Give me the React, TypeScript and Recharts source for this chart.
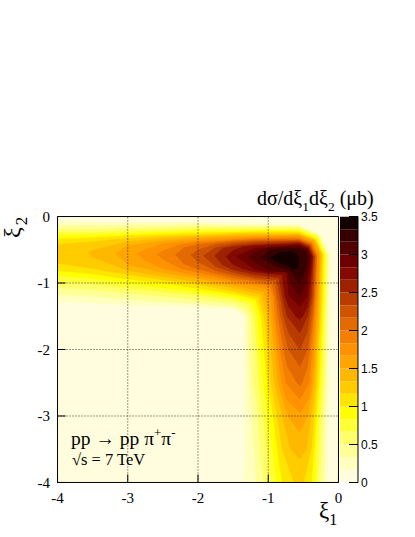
import React from "react";
import { Bar, BarChart, ReferenceLine, Scatter, ScatterChart, XAxis, YAxis } from "recharts";

type Pt = [number, number];

// contour levels of dσ/dξ1dξ2 (μb), 21 colour bands
const levels = [0, 0.167, 0.333, 0.5, 0.667, 0.833, 1.0, 1.167, 1.333, 1.5, 1.667, 1.833, 2.0, 2.167, 2.333, 2.5, 2.667, 2.833, 3.0, 3.167, 3.333, 3.5];
const bandColors = [
  "#fffddd", "#ffffc0", "#ffff98", "#ffff6c", "#ffff38", "#ffff00", "#ffe400",
  "#ffcc00", "#ffb800", "#ffa400", "#ff9200", "#f57f00", "#e36a00", "#cf5400",
  "#b83c00", "#9e2200", "#840a00", "#6c0000", "#520000", "#360000", "#140000",
];
const axisTicks = [-4, -3, -2, -1, 0];
const gridTicks = [-3, -2, -1];
const minorTicks = [-3.8, -3.6, -3.4, -3.2, -2.8, -2.6, -2.4, -2.2, -1.8, -1.6, -1.4, -1.2, -0.8, -0.6, -0.4, -0.2];
const zTicks = [0, 0.5, 1, 1.5, 2, 2.5, 3, 3.5];

// region above each level, [ξ1, ξ2]
const above0: Pt[] = [[-4, 0], [0, 0], [0, -4], [-4, -4]];
const above1: Pt[] = [[-4, -0.08], [-3.5, -0.09], [-3, -0.09], [-2.5, -0.09], [-2, -0.09], [-1.5, -0.11], [-1.2, -0.11], [-0.57, -0.12], [-0.26, -0.26], [-0.12, -0.57], [-0.13, -1.2], [-0.13, -1.5], [-0.14, -2], [-0.14, -2.5], [-0.15, -3], [-0.16, -3.5], [-0.16, -4], [-1.33, -4], [-1.33, -3.5], [-1.33, -3], [-1.33, -2.5], [-1.33, -2], [-1.34, -1.5], [-1.39, -1.45], [-1.5, -1.39], [-2, -1.36], [-2.5, -1.34], [-3, -1.33], [-3.5, -1.3], [-4, -1.28]];
const above2: Pt[] = [[-4, -0.14], [-3.5, -0.14], [-3, -0.13], [-2.5, -0.13], [-2, -0.12], [-1.5, -0.14], [-1.2, -0.14], [-0.57, -0.15], [-0.28, -0.28], [-0.15, -0.57], [-0.15, -1.2], [-0.16, -1.5], [-0.16, -2], [-0.17, -2.5], [-0.19, -3], [-0.2, -3.5], [-0.21, -4], [-1.17, -4], [-1.2, -3.5], [-1.23, -3], [-1.27, -2.5], [-1.29, -2], [-1.3, -1.5], [-1.36, -1.42], [-1.5, -1.35], [-2, -1.31], [-2.5, -1.28], [-3, -1.24], [-3.5, -1.2], [-4, -1.17]];
const above3: Pt[] = [[-4, -0.19], [-3.5, -0.19], [-3, -0.18], [-2.5, -0.17], [-2, -0.16], [-1.5, -0.16], [-1.2, -0.16], [-0.57, -0.16], [-0.29, -0.29], [-0.16, -0.57], [-0.17, -1.2], [-0.18, -1.5], [-0.19, -2], [-0.2, -2.5], [-0.23, -3], [-0.24, -3.5], [-0.26, -4], [-1.07, -4], [-1.11, -3.5], [-1.14, -3], [-1.2, -2.5], [-1.22, -2], [-1.25, -1.5], [-1.32, -1.38], [-1.5, -1.3], [-2, -1.25], [-2.5, -1.2], [-3, -1.15], [-3.5, -1.1], [-4, -1.07]];
const above4: Pt[] = [[-4, -0.24], [-3.5, -0.24], [-3, -0.22], [-2.5, -0.21], [-2, -0.19], [-1.5, -0.19], [-1.2, -0.19], [-0.57, -0.19], [-0.3, -0.3], [-0.18, -0.58], [-0.19, -1.2], [-0.2, -1.5], [-0.22, -2], [-0.23, -2.5], [-0.26, -3], [-0.28, -3.5], [-0.3, -4], [-0.97, -4], [-1.02, -3.5], [-1.07, -3], [-1.13, -2.5], [-1.16, -2], [-1.2, -1.5], [-1.27, -1.33], [-1.5, -1.25], [-2, -1.18], [-2.5, -1.13], [-3, -1.08], [-3.5, -1.01], [-4, -0.97]];
const above5: Pt[] = [[-4, -0.29], [-3.5, -0.28], [-3, -0.26], [-2.5, -0.24], [-2, -0.22], [-1.5, -0.22], [-1.2, -0.21], [-0.57, -0.21], [-0.31, -0.32], [-0.2, -0.58], [-0.21, -1.2], [-0.22, -1.5], [-0.24, -2], [-0.26, -2.5], [-0.29, -3], [-0.32, -3.5], [-0.34, -4], [-0.88, -4], [-0.94, -3.5], [-1.0, -3], [-1.07, -2.5], [-1.11, -2], [-1.15, -1.5], [-1.22, -1.29], [-1.5, -1.2], [-2, -1.13], [-2.5, -1.07], [-3, -1.0], [-3.5, -0.93], [-4, -0.89]];
const above6: Pt[] = [[-4, -0.34], [-3.5, -0.32], [-3, -0.29], [-2.5, -0.27], [-2, -0.25], [-1.5, -0.24], [-1.2, -0.23], [-0.57, -0.23], [-0.32, -0.34], [-0.22, -0.58], [-0.23, -1.2], [-0.24, -1.5], [-0.26, -2], [-0.28, -2.5], [-0.32, -3], [-0.35, -3.5], [-0.39, -4], [-0.8, -4], [-0.87, -3.5], [-0.93, -3], [-1.01, -2.5], [-1.06, -2], [-1.1, -1.5], [-1.18, -1.24], [-1.5, -1.16], [-2, -1.08], [-2.5, -1.0], [-3, -0.94], [-3.5, -0.86], [-4, -0.81]];
const above7: Pt[] = [[-4, -0.42], [-3.5, -0.38], [-3, -0.33], [-2.5, -0.3], [-2, -0.28], [-1.5, -0.26], [-1.2, -0.25], [-0.57, -0.25], [-0.33, -0.35], [-0.23, -0.57], [-0.25, -1.2], [-0.26, -1.5], [-0.29, -2], [-0.31, -2.5], [-0.35, -3], [-0.39, -3.5], [-0.5, -4], [-0.63, -4], [-0.8, -3.5], [-0.87, -3], [-0.96, -2.5], [-1.0, -2], [-1.06, -1.5], [-1.14, -1.21], [-1.5, -1.12], [-2, -1.02], [-2.5, -0.95], [-3, -0.87], [-3.5, -0.78], [-4, -0.7]];
const above8: Pt[] = [[-3.56, -0.55], [-3.5, -0.51], [-3, -0.38], [-2.5, -0.33], [-2, -0.3], [-1.5, -0.28], [-1.2, -0.27], [-0.57, -0.27], [-0.34, -0.36], [-0.25, -0.57], [-0.27, -1.2], [-0.28, -1.5], [-0.31, -2], [-0.33, -2.5], [-0.39, -3], [-0.46, -3.5], [-0.55, -3.65], [-0.68, -3.5], [-0.8, -3], [-0.91, -2.5], [-0.96, -2], [-1.01, -1.5], [-1.1, -1.17], [-1.5, -1.07], [-2, -0.98], [-2.5, -0.9], [-3, -0.81], [-3.5, -0.61]];
const above9: Pt[] = [[-3.17, -0.56], [-3, -0.44], [-2.5, -0.37], [-2, -0.33], [-1.5, -0.3], [-1.2, -0.3], [-0.56, -0.28], [-0.35, -0.37], [-0.26, -0.56], [-0.29, -1.2], [-0.3, -1.5], [-0.33, -2], [-0.36, -2.5], [-0.44, -3], [-0.55, -3.25], [-0.72, -3], [-0.86, -2.5], [-0.91, -2], [-0.97, -1.5], [-1.06, -1.13], [-1.5, -1.03], [-2, -0.93], [-2.5, -0.84], [-3, -0.72]];
const above10: Pt[] = [[-2.87, -0.56], [-2.75, -0.5], [-2.5, -0.41], [-2, -0.36], [-1.5, -0.33], [-1.2, -0.31], [-0.57, -0.3], [-0.37, -0.39], [-0.28, -0.57], [-0.3, -1.2], [-0.32, -1.5], [-0.35, -2], [-0.39, -2.5], [-0.43, -2.75], [-0.55, -2.95], [-0.74, -2.75], [-0.81, -2.5], [-0.87, -2], [-0.93, -1.5], [-0.97, -1.2], [-1.02, -1.09], [-1.2, -1.04], [-1.5, -0.99], [-2, -0.89], [-2.5, -0.78], [-2.75, -0.66]];
const above11: Pt[] = [[-2.58, -0.57], [-2.5, -0.52], [-2.25, -0.42], [-2, -0.39], [-1.5, -0.35], [-1.2, -0.33], [-0.57, -0.32], [-0.38, -0.4], [-0.3, -0.59], [-0.32, -1.2], [-0.34, -1.5], [-0.38, -2], [-0.42, -2.5], [-0.55, -2.75], [-0.75, -2.5], [-0.83, -2], [-0.9, -1.5], [-0.93, -1.2], [-0.98, -1.05], [-1.2, -1.0], [-1.5, -0.96], [-2, -0.84], [-2.25, -0.78], [-2.5, -0.64]];
const above12: Pt[] = [[-2.32, -0.57], [-2.2, -0.47], [-2, -0.42], [-1.5, -0.37], [-1.2, -0.35], [-0.56, -0.34], [-0.39, -0.41], [-0.31, -0.59], [-0.34, -1.2], [-0.36, -1.5], [-0.41, -2], [-0.44, -2.25], [-0.52, -2.5], [-0.55, -2.55], [-0.59, -2.5], [-0.73, -2.25], [-0.78, -2], [-0.86, -1.5], [-0.9, -1.2], [-0.95, -1.02], [-1.2, -0.97], [-1.5, -0.92], [-2, -0.79], [-2.2, -0.71]];
const above13: Pt[] = [[-2.1, -0.58], [-2, -0.5], [-1.75, -0.42], [-1.5, -0.39], [-1.2, -0.37], [-0.57, -0.36], [-0.4, -0.43], [-0.33, -0.6], [-0.35, -1.2], [-0.38, -1.5], [-0.41, -1.75], [-0.44, -2], [-0.55, -2.25], [-0.71, -2], [-0.77, -1.75], [-0.82, -1.5], [-0.87, -1.2], [-0.91, -0.98], [-1.2, -0.94], [-1.5, -0.88], [-1.75, -0.81], [-2, -0.68]];
const above14: Pt[] = [[-1.92, -0.59], [-1.75, -0.47], [-1.5, -0.42], [-1.2, -0.39], [-0.56, -0.37], [-0.41, -0.44], [-0.34, -0.6], [-0.37, -1.2], [-0.41, -1.5], [-0.45, -1.75], [-0.55, -2.0], [-0.71, -1.75], [-0.78, -1.5], [-0.83, -1.2], [-0.88, -0.95], [-1.2, -0.91], [-1.5, -0.84], [-1.75, -0.75]];
const above15: Pt[] = [[-1.76, -0.59], [-1.65, -0.48], [-1.5, -0.45], [-1.2, -0.42], [-0.56, -0.39], [-0.42, -0.45], [-0.36, -0.6], [-0.39, -1.2], [-0.44, -1.5], [-0.55, -1.75], [-0.73, -1.5], [-0.8, -1.2], [-0.84, -0.92], [-1.2, -0.87], [-1.5, -0.8], [-1.65, -0.73]];
const above16: Pt[] = [[-1.6, -0.6], [-1.5, -0.51], [-1.35, -0.46], [-1.2, -0.44], [-0.56, -0.41], [-0.43, -0.47], [-0.37, -0.6], [-0.42, -1.2], [-0.44, -1.35], [-0.51, -1.5], [-0.55, -1.55], [-0.61, -1.5], [-0.71, -1.35], [-0.76, -1.2], [-0.8, -0.88], [-1.2, -0.83], [-1.35, -0.79], [-1.5, -0.72]];
const above17: Pt[] = [[-1.45, -0.6], [-1.2, -0.48], [-0.56, -0.43], [-0.44, -0.48], [-0.39, -0.6], [-0.45, -1.2], [-0.55, -1.35], [-0.7, -1.2], [-0.74, -0.83], [-1.0, -0.84], [-1.2, -0.79]];
const above18: Pt[] = [[-1.28, -0.61], [-1.2, -0.55], [-1.0, -0.47], [-0.56, -0.455], [-0.455, -0.5], [-0.41, -0.6], [-0.46, -1.0], [-0.55, -1.2], [-0.68, -1.0], [-0.72, -0.84], [-1.0, -0.8], [-1.2, -0.68]];
const above19: Pt[] = [[-1.1, -0.61], [-0.95, -0.5], [-0.75, -0.48], [-0.56, -0.485], [-0.47, -0.53], [-0.44, -0.62], [-0.47, -0.82], [-0.56, -1.0], [-0.64, -0.86], [-0.72, -0.8], [-0.9, -0.74]];
const above20: Pt[] = [[-0.97, -0.62], [-0.85, -0.55], [-0.7, -0.53], [-0.6, -0.56], [-0.56, -0.65], [-0.58, -0.77], [-0.64, -0.8], [-0.72, -0.74], [-0.85, -0.69]];

const regions = [above0, above1, above2, above3, above4, above5, above6, above7, above8, above9, above10,
  above11, above12, above13, above14, above15, above16, above17, above18, above19, above20];

const serif = "'Liberation Serif', 'Times New Roman', serif";
const sans = "'Liberation Sans', Arial, sans-serif";
const TOP = 5000; // draw frame, ticks and grid above the contours

const filledLine = (color: string) => (props: any) => {
  const pts = (props.points || []).map((p: any) => `${p.x},${p.y}`).join(" ");
  return <polygon points={pts} fill={color} stroke={color} strokeWidth={0.7} strokeLinejoin="round" />;
};
const noDot = () => <g />;

const bandRow = [
  Object.fromEntries([["name", "z"], ...bandColors.map((_, i) => [`b${i}`, levels[i + 1] - levels[i]])]),
];

export default function App() {
  const dom: [number, number] = [-4, 0];
  const thin = 0.01;
  const ink = { stroke: "#000" };
  return (
    <div style={{ position: "absolute", left: 0, top: 0, width: 415, height: 537, background: "#fff" }}>
      <ScatterChart width={415} height={537} margin={{ top: 216.5, right: 76.5, bottom: 54.5, left: 57.5 }}>
        {regions.map((r, i) => (
          <Scatter key={i} data={r.map(([x, y]) => ({ x, y }))} line={filledLine(bandColors[i])}
            shape={noDot} isAnimationActive={false} zIndex={100 + i} />
        ))}
        {gridTicks.map((v) => (
          <ReferenceLine key={`gx${v}`} x={v} stroke="#000" strokeWidth={0.8} strokeDasharray="1 2" zIndex={TOP} />
        ))}
        {gridTicks.map((v) => (
          <ReferenceLine key={`gy${v}`} y={v} stroke="#000" strokeWidth={0.8} strokeDasharray="1 2" zIndex={TOP} />
        ))}
        <XAxis dataKey="x" type="number" domain={dom} allowDataOverflow ticks={axisTicks} interval={0}
          height={thin} tickSize={-8} tickMargin={18} axisLine={ink} tickLine={ink} zIndex={TOP}
          tick={{ fill: "#000", fontSize: 15, fontFamily: serif }} />
        <XAxis xAxisId="bm" type="number" domain={dom} allowDataOverflow ticks={minorTicks} interval={0}
          height={thin} tickSize={-4} tick={false} axisLine={false} tickLine={ink} zIndex={TOP} />
        <XAxis xAxisId="t" orientation="top" type="number" domain={dom} allowDataOverflow ticks={axisTicks} interval={0}
          height={thin} tickSize={-8} tick={false} axisLine={ink} tickLine={ink} zIndex={TOP} />
        <XAxis xAxisId="tm" orientation="top" type="number" domain={dom} allowDataOverflow ticks={minorTicks} interval={0}
          height={thin} tickSize={-4} tick={false} axisLine={false} tickLine={ink} zIndex={TOP} />
        <YAxis dataKey="y" type="number" domain={dom} allowDataOverflow ticks={axisTicks} interval={0}
          width={thin} tickSize={-8} tickMargin={15.5} axisLine={ink} tickLine={ink} zIndex={TOP}
          tick={{ fill: "#000", fontSize: 15, fontFamily: serif }} />
        <YAxis yAxisId="lm" type="number" domain={dom} allowDataOverflow ticks={minorTicks} interval={0}
          width={thin} tickSize={-4} tick={false} axisLine={false} tickLine={ink} zIndex={TOP} />
        <YAxis yAxisId="r" orientation="right" type="number" domain={dom} allowDataOverflow ticks={axisTicks} interval={0}
          width={thin} tickSize={-8} tick={false} axisLine={ink} tickLine={ink} zIndex={TOP} />
        <YAxis yAxisId="rm" orientation="right" type="number" domain={dom} allowDataOverflow ticks={minorTicks} interval={0}
          width={thin} tickSize={-4} tick={false} axisLine={false} tickLine={ink} zIndex={TOP} />
      </ScatterChart>

      <div style={{ position: "absolute", left: 340, top: 204 }}>
        <BarChart width={75} height={291} data={bandRow} barCategoryGap={0}
          margin={{ top: 12.5, right: 57, bottom: 12.5, left: 0 }}>
          <XAxis dataKey="name" hide />
          {bandColors.map((c, i) => (
            <Bar key={i} dataKey={`b${i}`} stackId="z" fill={c} isAnimationActive={false} />
          ))}
          <YAxis orientation="right" type="number" domain={[0, 3.5]} allowDataOverflow ticks={zTicks} interval={0}
            width={thin} tickSize={-9} tickMargin={12} axisLine={ink} tickLine={ink} zIndex={TOP}
            tick={{ fill: "#000", fontSize: 12, fontFamily: sans }} />
        </BarChart>
      </div>

      <svg width={415} height={537} style={{ position: "absolute", left: 0, top: 0, pointerEvents: "none" }}>
        <text x={257} y={205} fontFamily={serif} fontSize={20} fill="#000">
          dσ/dξ<tspan fontSize={13.5} dy={6}>1</tspan>
          <tspan dy={-6}>dξ</tspan><tspan fontSize={13.5} dy={6}>2</tspan>
          <tspan dy={-6}> (μb)</tspan>
        </text>
        <text x={20} y={238} transform="rotate(-90 20 238)" fontFamily={serif} fontSize={24} fill="#000">
          ξ<tspan fontSize={17} dx={2} dy={7}>2</tspan>
        </text>
        <text x={319} y={518} fontFamily={serif} fontSize={23} fill="#000">
          ξ<tspan fontSize={16} dy={7}>1</tspan>
        </text>
        <text x={71} y={445} fontFamily={serif} fontSize={19.5} fill="#000">
          pp → pp π<tspan fontSize={13} dy={-8}>+</tspan><tspan dy={8}>π</tspan><tspan fontSize={13} dy={-8}>-</tspan>
        </text>
        <text x={72} y={465} fontFamily={serif} fontSize={16.5} fill="#000">√s = 7 TeV</text>
      </svg>
    </div>
  );
}
